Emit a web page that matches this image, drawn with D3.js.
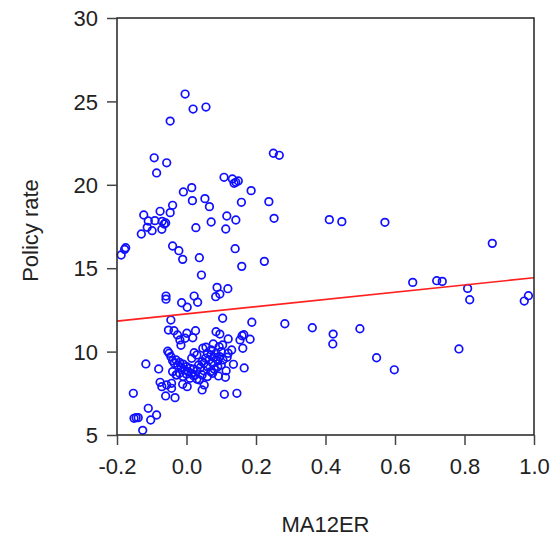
<!DOCTYPE html>
<html><head><meta charset="utf-8">
<script src="https://cdn.jsdelivr.net/npm/d3@7"></script>
<style>body{margin:0;background:#fff}svg{display:block}</style>
</head><body>
<svg id="c" width="552" height="539"></svg>
<script>
const xTicks = [-0.2, 0.0, 0.2, 0.4, 0.6, 0.8, 1.0];
const yTicks = [5, 10, 15, 20, 25, 30];
const xLabel = "MA12ER";
const yLabel = "Policy rate";
// fitted line: policy = a + b * MA12ER
const fitIntercept = 12.26;
const fitSlope = 2.17;

const ma12er = [
 0.411,0.447,0.571,0.880,0.651,0.720,0.736,0.809,0.815,0.972,0.984,0.283,0.362,0.422,0.421,0.499,0.547,0.598,0.784,
 -0.004,0.019,0.056,-0.047,0.250,0.267,-0.093,-0.057,-0.086,0.108,0.132,0.142,0.149,0.137,0.186,0.015,-0.009,0.053,0.017,0.066,0.158,0.237,
 -0.040,-0.047,-0.076,-0.123,-0.110,-0.091,-0.070,-0.064,-0.060,-0.113,-0.099,-0.071,-0.130,0.116,0.142,0.071,0.027,0.113,0.252,
 -0.175,-0.178,-0.188,-0.040,-0.022,-0.011,0.037,0.043,0.140,0.159,0.224,
 -0.059,-0.059,-0.014,0.002,0.022,0.032,0.088,0.119,0.096,0.084,0.104,-0.045,0.188,
 -0.052,-0.036,-0.026,-0.019,-0.016,0.001,0.026,0.018,-0.004,0.085,0.096,0.120,0.160,0.165,0.183,0.154,0.162,
 -0.054,0.022,0.047,0.056,0.071,0.077,0.094,0.104,0.130,
 -0.117,-0.080,0.117,0.135,0.166,0.114,0.092,0.112,
 -0.076,-0.071,-0.057,-0.043,-0.043,-0.060,-0.033,-0.011,0.002,0.037,0.051,0.045,-0.028,0.109,0.145,
 -0.153,-0.110,-0.086,-0.103,-0.145,-0.151,-0.139,-0.126,
 -0.045,-0.040,-0.035,-0.030,-0.025,-0.020,-0.015,-0.010,-0.005,0.000,0.005,0.010,0.015,0.020,0.025,0.030,0.035,0.040,0.045,0.050,
 0.055,0.060,0.065,0.070,0.075,0.080,0.085,0.090,0.095,0.100,0.105,-0.040,-0.030,-0.020,-0.010,0.000,0.010,0.020,0.030,0.045,
 0.060,0.070,0.080,0.090,0.100,0.120,-0.050,0.015,0.030,0.060,0.075,0.050
];
const policyRate = [
 17.91,17.79,17.75,16.49,14.15,14.25,14.21,13.79,13.11,13.03,13.35,11.67,11.43,11.05,10.46,11.37,9.63,8.91,10.16,
 25.44,24.54,24.66,23.82,21.89,21.77,21.62,21.32,20.71,20.45,20.35,20.15,20.23,20.09,19.65,19.83,19.57,19.17,19.05,18.69,18.95,18.99,
 18.77,18.33,18.41,18.19,17.83,17.85,17.81,17.65,17.71,17.45,17.25,17.33,17.05,18.13,17.89,17.77,17.43,17.35,17.99,
 16.23,16.13,15.79,16.33,16.05,15.53,15.63,14.59,16.17,15.11,15.41,
 13.33,13.14,12.93,12.66,13.33,12.96,13.85,13.77,13.45,13.29,12.00,11.89,11.76,
 11.29,11.25,11.00,10.70,10.38,11.10,11.25,10.83,10.80,11.19,11.05,10.76,10.95,11.01,10.74,10.70,10.20,
 10.02,9.93,10.20,10.26,10.10,10.46,10.29,10.40,10.10,
 9.26,8.96,9.66,9.24,9.02,8.85,8.54,8.46,
 8.16,7.90,8.00,8.10,7.80,7.34,7.24,8.04,7.90,8.30,8.00,7.70,8.60,7.44,7.50,
 7.50,6.60,6.20,5.90,6.04,6.00,6.04,5.28,
 9.70,9.45,9.30,9.50,9.20,9.35,9.05,9.25,8.90,9.10,8.80,9.00,8.70,8.95,8.60,8.85,9.20,9.05,9.40,9.30,
 9.60,9.10,9.50,9.80,9.30,9.65,9.90,9.45,9.70,10.00,9.50,8.80,8.60,8.70,8.50,8.65,8.40,8.55,8.35,8.60,
 8.50,8.80,8.95,9.10,9.20,9.90,9.90,9.60,9.80,9.90,8.70,8.85
];

const L = 117, R = 534, T = 18, B = 435;
const svg = d3.select("#c");
const x = d3.scaleLinear().domain([-0.2, 1.0]).range([L, R]);
const y = d3.scaleLinear().domain([5, 30]).range([B, T]);
const font = "Liberation Sans, Arial, sans-serif";

const pts = ma12er.map((v, i) => ({x: v, y: policyRate[i]}));

svg.append("g").selectAll("circle").data(pts).join("circle")
  .attr("cx", d => x(d.x)).attr("cy", d => y(d.y)).attr("r", 3.8)
  .attr("fill", "none").attr("stroke", "#1010ff").attr("stroke-width", 1.7);

svg.append("line")
  .attr("x1", x(-0.2)).attr("y1", y(fitIntercept + fitSlope * -0.2))
  .attr("x2", x(1.0)).attr("y2", y(fitIntercept + fitSlope * 1.0))
  .attr("stroke", "#ff2020").attr("stroke-width", 1.6);

svg.append("rect").attr("x", L).attr("y", T).attr("width", R - L).attr("height", B - T)
  .attr("fill", "none").attr("stroke", "#222").attr("stroke-width", 1.5);

const fmtX = d => d3.format(".1f")(d).replace("\u2212", "-");
const xa = svg.append("g").attr("transform", `translate(0,${B})`)
  .call(d3.axisBottom(x).tickValues(xTicks).tickSize(10).tickFormat(fmtX));
const ya = svg.append("g").attr("transform", `translate(${L},0)`)
  .call(d3.axisLeft(y).tickValues(yTicks).tickSize(10).tickFormat(d3.format("d")));
[xa, ya].forEach(g => {
  g.select(".domain").remove();
  g.selectAll(".tick line").attr("stroke", "#444").attr("stroke-width", 1.5);
  g.selectAll("text").attr("font-family", font).attr("font-size", 22).attr("fill", "#222");
});
xa.selectAll("text").attr("dy", null).attr("y", 39);
ya.selectAll("text").attr("x", -19).attr("dy", "0.35em");

svg.append("text").attr("x", (L + R) / 2).attr("y", 532).attr("text-anchor", "middle")
  .attr("font-family", font).attr("font-size", 22).attr("fill", "#222").text(xLabel);
svg.append("text").attr("transform", `translate(38,${(T + B) / 2 + 4}) rotate(-90)`)
  .attr("text-anchor", "middle").attr("font-family", font).attr("font-size", 22).attr("fill", "#222").text(yLabel);
</script>
</body></html>
